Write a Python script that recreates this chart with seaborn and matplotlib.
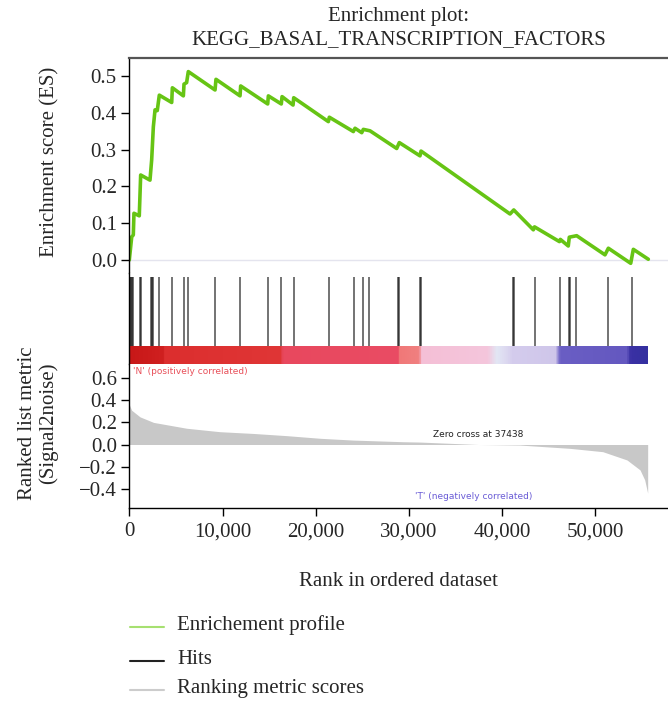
import numpy as np
import pandas as pd
import matplotlib
matplotlib.use("Agg")
import matplotlib.pyplot as plt
import seaborn as sns
from matplotlib.colors import LinearSegmentedColormap, to_rgb
from matplotlib.lines import Line2D

# ---------------- data ----------------
es_rank = [0, 260, 430, 500, 1070, 1220, 2220, 2400, 2580, 2760, 3000, 3220, 4550, 4620,
           5800, 5870, 6150, 6330, 9200, 9300, 11880, 11950, 14850, 14920, 16310, 16390,
           17570, 17640, 21360, 21460, 24040, 24220, 24940, 25110, 25830, 28690, 28970,
           31190, 31300, 40850, 41250, 43350, 43480, 46150, 46250, 47100, 47210, 48000,
           51040, 51400, 53800, 54080, 55690]
es_value = [0.0, 0.063, 0.068, 0.127, 0.12, 0.231, 0.217, 0.272, 0.362, 0.408, 0.406, 0.448,
            0.428, 0.468, 0.446, 0.478, 0.482, 0.512, 0.462, 0.491, 0.446, 0.473, 0.424, 0.446,
            0.424, 0.444, 0.421, 0.441, 0.376, 0.388, 0.349, 0.358, 0.346, 0.355, 0.351, 0.303,
            0.319, 0.283, 0.296, 0.125, 0.136, 0.082, 0.090, 0.050, 0.056, 0.038, 0.062, 0.066,
            0.014, 0.032, -0.009, 0.029, 0.002]

hit_ranks = [120, 230, 330, 450, 1200, 1280, 2380, 2470, 2560, 3200, 4560, 5870, 6310,
             9220, 11890, 14880, 16320, 17650, 21380, 24110, 25090, 25760, 28800, 28930,
             31180, 31320, 41150, 41290, 43480, 46210, 47160, 47300, 47930, 51360, 53970]

metric_rank = [0, 250, 1150, 2600, 6150, 9700, 13300, 16900, 20500, 24000, 29400, 31200,
               37438, 41900, 47300, 50800, 53400, 54800, 55300, 55620]
metric_value = [0.36, 0.31, 0.25, 0.20, 0.147, 0.116, 0.10, 0.08, 0.056, 0.04, 0.025, 0.022,
                0.0, -0.005, -0.035, -0.065, -0.14, -0.23, -0.32, -0.44]

cbar_rank = [0, 3600, 3700, 16200, 16400, 28800, 29000, 31100, 31400, 38500, 39500, 40500,
             41200, 45800, 46300, 53500, 53900, 55620]
cbar_color = ["#c81818", "#d02020", "#dc2e2e", "#e03636", "#e8485e", "#ea4c64", "#f07878",
              "#f08080", "#f5bfd6", "#f4c6dc", "#e2e6f4", "#dcd8f0", "#d4cced", "#cfc6ea",
              "#6a5ec4", "#6458c0", "#3a30a4", "#3530a0"]

n_genes = 55620
zero_cross = 37438
xticks = [0, 10000, 20000, 30000, 40000, 50000]
es_ticks = [0.0, 0.1, 0.2, 0.3, 0.4, 0.5]
rk_ticks = [-0.4, -0.2, 0.0, 0.2, 0.4, 0.6]
title_lines = ["Enrichment plot:", "KEGG_BASAL_TRANSCRIPTION_FACTORS"]
legend_labels = ["Enrichement profile", "Hits", "Ranking metric scores"]

# ---------------- style ----------------
sns.set_style("white")
plt.rcParams["font.family"] = ["Liberation Serif", "DejaVu Serif"]
plt.rcParams["axes.linewidth"] = 1.0
FS = 15

W, H = 668, 703
fig = plt.figure(figsize=(W / 100, H / 100), dpi=100)


def rect(x0, y0, x1, y1):
    return [x0 / W, 1 - y1 / H, (x1 - x0) / W, (y1 - y0) / H]


X0 = 129.3
ax_es = fig.add_axes(rect(X0, 57.7, 668, 273))
ax_hit = fig.add_axes(rect(X0, 273, 668, 364), sharex=ax_es)
ax_rk = fig.add_axes(rect(X0, 364, 668, 508.3), sharex=ax_es)

xmax = (668 - X0) / 0.00932

# ES panel
es_df = pd.DataFrame({"rank": es_rank, "es": es_value})
ax_es.axhline(0, color="#e4e4ee", lw=1, zorder=0)
sns.lineplot(data=es_df, x="rank", y="es", ax=ax_es, color="#66c414", lw=2.6,
             estimator=None, sort=False)
ax_es.set_xlim(0, xmax)
ax_es.set_ylim((260 - 273) / 368, (260 - 57.7) / 368)
ax_es.set_yticks(es_ticks)
ax_es.set_yticklabels([f"{t:.1f}" for t in es_ticks])
ax_es.set_xlabel("")
ax_es.set_ylabel("")
for s in ["right", "bottom"]:
    ax_es.spines[s].set_visible(False)
ax_es.spines["top"].set_color("#555555")
ax_es.spines["top"].set_linewidth(1.6)
ax_es.spines["left"].set_color("black")
ax_es.tick_params(axis="x", bottom=False, labelbottom=False)

# Hits panel with colour bar
cb_top = (364 - 346) / 91
hit_top = (364 - 276.7) / 91
ax_hit.vlines(hit_ranks, cb_top, hit_top, color="black", alpha=0.55, lw=1.4)
cmap = LinearSegmentedColormap.from_list(
    "gsea", list(zip(np.array(cbar_rank) / n_genes, [to_rgb(c) for c in cbar_color])))
grad = np.linspace(0, 1, 800)[None, :]
ax_hit.imshow(grad, cmap=cmap, aspect="auto", extent=[0, n_genes, 0, cb_top],
              interpolation="bilinear")
ax_hit.set_ylim(0, 1)
ax_hit.set_xlim(0, xmax)
ax_hit.set_yticks([])
for s in ["right", "bottom", "top"]:
    ax_hit.spines[s].set_visible(False)
ax_hit.spines["left"].set_color("black")
ax_hit.tick_params(axis="x", bottom=False, labelbottom=False)

# Ranked list panel
ax_rk.fill_between(metric_rank, metric_value, 0, color="#c8c8c8", lw=0)
ax_rk.set_ylim(-(508.3 - 444.5) / 110.5, (444.5 - 364) / 110.5)
ax_rk.set_xlim(0, xmax)
ax_rk.set_yticks(rk_ticks)
ax_rk.set_yticklabels([f"{t:.1f}".replace("-", "\u2212") for t in rk_ticks])
ax_rk.set_xticks(xticks)
ax_rk.set_xticklabels([f"{t:,}" for t in xticks])
for s in ["right", "top"]:
    ax_rk.spines[s].set_visible(False)
ax_rk.spines["left"].set_color("black")
ax_rk.spines["bottom"].set_color("black")
ax_rk.text(zero_cross, 0.095, f"Zero cross at {zero_cross}", ha="center", va="center",
           fontsize=6.5, family="DejaVu Sans", color="#222222")
ax_rk.text(400, 0.66, "'N' (positively correlated)", ha="left", va="center",
           fontsize=6.5, family="DejaVu Sans", color="#e8505a")
ax_rk.text(37000, -0.475, "'T' (negatively correlated)", ha="center", va="center",
           fontsize=6.5, family="DejaVu Sans", color="#6a5cd6")

for ax in (ax_es, ax_hit, ax_rk):
    ax.tick_params(axis="y", left=True, length=6, width=1, direction="out",
                   labelsize=FS, pad=3, color="black")
ax_rk.tick_params(axis="x", bottom=True, length=6, width=1, direction="out",
                  labelsize=FS, pad=4, color="black")

# axis labels
fig.text(50 / W, 1 - 162 / H, "Enrichment score (ES)", rotation=90, ha="center",
         va="center", fontsize=FS)
fig.text(38 / W, 1 - 423 / H, "Ranked list metric\n(Signal2noise)", rotation=90,
         ha="center", va="center", fontsize=FS, linespacing=1.1)
fig.text(398.7 / W, 1 - 582 / H, "Rank in ordered dataset", ha="center", va="center",
         fontsize=FS)

# title
fig.text(398.7 / W, 1 - 16 / H, title_lines[0], ha="center", va="center", fontsize=FS)
fig.text(398.7 / W, 1 - 39.5 / H, title_lines[1], ha="center", va="center", fontsize=FS)

# legend
leg_colors = ["#a6e070", "#222222", "#cccccc"]
leg_y = [626.5, 660.5, 689.5]
for lab, c, y in zip(legend_labels, leg_colors, leg_y):
    fig.add_artist(Line2D([130 / W, 164 / W], [1 - y / H, 1 - y / H], color=c, lw=1.5,
                          transform=fig.transFigure))
    fig.text(177 / W, 1 - (y - 1) / H, lab, ha="left", va="center", fontsize=FS)

fig.savefig("out.png", dpi=100)
